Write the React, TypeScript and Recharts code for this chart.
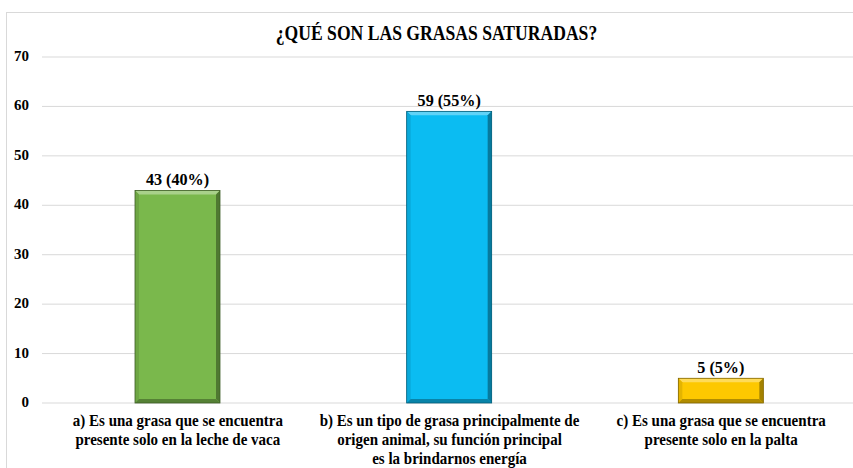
import { BarChart, Bar, XAxis, YAxis, CartesianGrid, LabelList, Cell } from 'recharts';

const categories = ['a', 'b', 'c'];
const categoryLines = [
  ['a) Es una grasa que se encuentra', 'presente solo en la leche de vaca'],
  ['b) Es un tipo de grasa principalmente de', 'origen animal, su función principal', 'es la brindarnos energía'],
  ['c) Es una grasa que se encuentra', 'presente solo en la palta'],
];
const counts = [43, 59, 5];
const percents = [40, 55, 5];
const yTicks = [0, 10, 20, 30, 40, 50, 60, 70];
const barColors = ['#7ab84c', '#0bbcf2', '#fdc800'];

const FONT = '"Liberation Serif", "Times New Roman", serif';

const data = categories.map((c, i) => ({
  key: c,
  lines: categoryLines[i],
  value: counts[i],
  label: `${counts[i]} (${percents[i]}%)`,
}));

function shade(hex: string, amt: number) {
  const n = parseInt(hex.slice(1), 16);
  const ch = (v: number) => Math.max(0, Math.min(255, Math.round(amt > 0 ? v + (255 - v) * amt : v * (1 + amt))));
  const r = ch((n >> 16) & 255);
  const g = ch((n >> 8) & 255);
  const b = ch(n & 255);
  return `rgb(${r},${g},${b})`;
}

function BevelBar(props: any) {
  const { x, y, width, height, fill } = props;
  if (!height || height <= 0) return null;
  const b = Math.min(4, height / 3);
  const x2 = x + width;
  const y2 = y + height;
  return (
    <g>
      <rect x={x} y={y} width={width} height={height} fill={fill} />
      <polygon points={`${x},${y} ${x2},${y} ${x2 - b},${y + b} ${x + b},${y + b}`} fill={shade(fill, 0.35)} />
      <polygon points={`${x},${y} ${x + b},${y + b} ${x + b},${y2 - b} ${x},${y2}`} fill={shade(fill, -0.1)} />
      <polygon points={`${x2},${y} ${x2},${y2} ${x2 - b},${y2 - b} ${x2 - b},${y + b}`} fill={shade(fill, -0.35)} />
      <polygon points={`${x},${y2} ${x2},${y2} ${x2 - b},${y2 - b} ${x + b},${y2 - b}`} fill={shade(fill, -0.3)} />
      <rect x={x} y={y} width={width} height={height} fill="none" stroke={shade(fill, -0.5)} strokeWidth={0.8} />
    </g>
  );
}

// the source used a narrow Times, so the longer texts are squeezed sideways
function CategoryTick(props: any) {
  const { x, y, payload, index } = props;
  const lines = data[index]?.lines ?? [String(payload.value)];
  return (
    <g transform={`translate(${x},${y}) scale(0.91,1)`}>
      <text x={0} y={0} textAnchor="middle" style={{ fontFamily: FONT, fontWeight: 'bold', fontSize: 16.5 }} fill="#000">
        {lines.map((l: string, i: number) => (
          <tspan key={i} x={0} dy={i === 0 ? 23 : 19}>
            {l}
          </tspan>
        ))}
      </text>
    </g>
  );
}

function ValueTick(props: any) {
  const { x, y, payload } = props;
  return (
    <text x={x} y={y} dy={4} textAnchor="end" style={{ fontFamily: FONT, fontWeight: 'bold', fontSize: 15 }} fill="#000">
      {payload.value}
    </text>
  );
}

function BarLabel(props: any) {
  const { x, y, width, value } = props;
  return (
    <g transform={`translate(${x + width / 2},${y - 5}) scale(0.95,1)`}>
      <text x={0} y={0} textAnchor="middle" style={{ fontFamily: FONT, fontWeight: 'bold', fontSize: 17 }} fill="#000">
        {value}
      </text>
    </g>
  );
}

export default function App() {
  return (
    <div style={{ position: 'absolute', left: 0, top: 0, width: 853, height: 468, overflow: 'hidden', background: '#fff' }}>
      <div
        style={{
          position: 'absolute',
          left: 6,
          top: 12,
          width: 900,
          height: 500,
          border: '1px solid #d9d9d9',
        }}
      />
      <div
        style={{
          position: 'absolute',
          left: 0,
          top: 20,
          width: 873,
          textAlign: 'center',
          fontFamily: FONT,
          fontWeight: 'bold',
          fontSize: 22,
          lineHeight: 'normal',
          color: '#000',
          transform: 'scaleX(0.8)',
          transformOrigin: '436.5px 0',
          whiteSpace: 'nowrap',
        }}
      >
        ¿QUÉ SON LAS GRASAS SATURADAS?
      </div>
      <div style={{ position: 'absolute', left: 0, top: 0 }}>
        <BarChart
          width={880}
          height={468}
          data={data}
          margin={{ top: 57, right: 23, bottom: 0, left: 12 }}
          barSize={85}
        >
          <CartesianGrid vertical={false} stroke="#d9d9d9" strokeWidth={1} />
          <XAxis
            dataKey="key"
            axisLine={false}
            tickLine={false}
            height={65}
            interval={0}
            tickSize={0}
            tickMargin={0}
            tick={<CategoryTick />}
          />
          <YAxis
            domain={[0, 70]}
            ticks={yTicks}
            axisLine={false}
            tickLine={false}
            width={30}
            tickSize={0}
            tickMargin={13}
            tick={<ValueTick />}
          />
          <Bar dataKey="value" shape={<BevelBar />} isAnimationActive={false}>
            {data.map((d, i) => (
              <Cell key={d.key} fill={barColors[i]} />
            ))}
            <LabelList dataKey="label" content={<BarLabel />} />
          </Bar>
        </BarChart>
      </div>
    </div>
  );
}
